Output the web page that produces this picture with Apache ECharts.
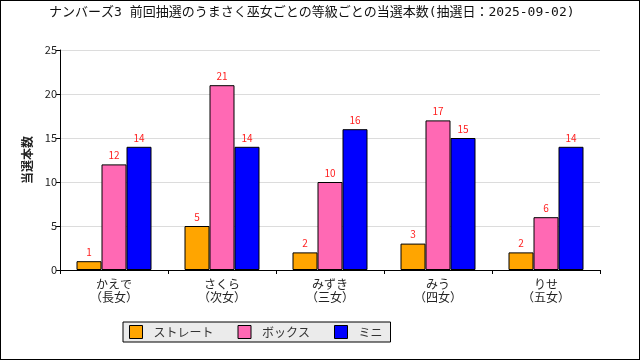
<!DOCTYPE html>
<html><head><meta charset="utf-8">
<script src="https://cdn.jsdelivr.net/npm/echarts@6/dist/echarts.min.js"></script>
<style>html,body{margin:0;padding:0;background:#fff}#c{width:640px;height:360px;box-sizing:border-box;border:1px solid #000}</style>
</head><body><div id="c"></div>
<script>
const categories = ['かえで\n（長女）','さくら\n（次女）','みずき\n（三女）','みう\n（四女）','りせ\n（五女）'];
const straight = [1,5,2,3,2];
const box = [12,21,10,17,6];
const mini = [14,14,16,15,14];
const yTicks = [0,5,10,15,20,25];
const FONT = '"Noto Sans CJK JP", sans-serif';
const MONO = '"DejaVu Sans Mono", "Noto Sans CJK JP", sans-serif';
const chart = echarts.init(document.getElementById('c'), null, {renderer:'canvas'});
const lbl = {show:true, position:'top', distance:4, color:'#ff2020', fontSize:10, fontFamily:FONT};
const mk = (name, data, color) => ({name, type:'bar', data, barWidth:25, barGap:'0%',
  itemStyle:{color, borderColor:'#000', borderWidth:1}, label:lbl});
chart.setOption({
  animation:false,
  textStyle:{fontFamily:FONT},
  title:{text:'ナンバーズ3 前回抽選のうまさく巫女ごとの等級ごとの当選本数(抽選日：2025-09-02)', left:43, top:0,
    textStyle:{fontSize:13, fontWeight:'normal', color:'#111', fontFamily:MONO}},
  grid:{left:59, right:39, top:49, bottom:89},
  legend:{left:122, top:321, backgroundColor:'#ebebeb', borderColor:'#000', borderWidth:1, padding:[3,8,3,6],
    itemWidth:13, itemHeight:13, itemGap:24, icon:'rect',
    itemStyle:{borderColor:'#000', borderWidth:1},
    textStyle:{fontSize:12, color:'#333', fontFamily:FONT, padding:[0,0,0,6]},
    data:['ストレート','ボックス','ミニ']},
  xAxis:{type:'category', data:categories,
    axisLine:{lineStyle:{color:'#000'}}, axisTick:{show:true, length:4, lineStyle:{color:'#000'}, alignWithLabel:false},
    axisLabel:{fontSize:12, color:'#222', margin:8, lineHeight:13, fontFamily:FONT}},
  yAxis:{type:'value', min:yTicks[0], max:yTicks[yTicks.length-1], interval:5,
    name:'当選本数', nameLocation:'middle', nameRotate:90, nameGap:27,
    nameTextStyle:{fontSize:12, fontWeight:'bold', color:'#222', fontFamily:FONT},
    axisLine:{show:true, lineStyle:{color:'#000'}}, axisTick:{show:true, length:4, lineStyle:{color:'#000'}},
    axisLabel:{fontSize:11, color:'#222', margin:3, fontFamily:FONT},
    splitLine:{lineStyle:{color:'#dcdcdc'}}},
  series:[mk('ストレート', straight, '#ffa500'), mk('ボックス', box, '#ff69b4'), mk('ミニ', mini, '#0000ff')]
});
</script></body></html>
